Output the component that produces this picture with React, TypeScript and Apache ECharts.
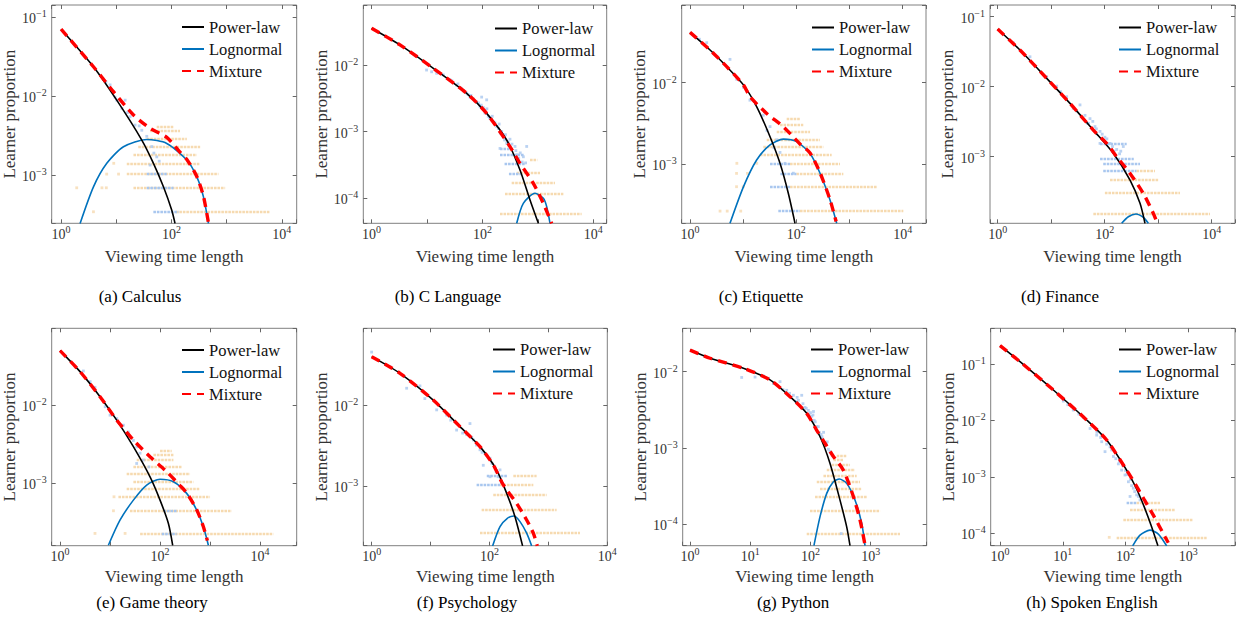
import React, { useEffect, useRef } from 'react';
import * as echarts from 'echarts';

const FONT = "'Liberation Serif', 'Times New Roman', serif";
const X_NAME = 'Viewing time length';
const Y_NAME = 'Learner proportion';
const LEGEND_NAMES = ['Power-law', 'Lognormal', 'Mixture'];
const CAPTIONS = ['(a) Calculus', '(b) C Language', '(c) Etiquette', '(d) Finance', '(e) Game theory', '(f) Psychology', '(g) Python', '(h) Spoken English'];

// axis ranges [min, max]
const X_RANGES = [[0.676, 18600], [0.708, 17400], [0.697, 27500], [0.719, 27300], [0.681, 54100], [0.722, 10000], [0.755, 8500], [0.71, 5550]];
const Y_RANGES = [[0.000245, 0.143], [0.0000422, 0.0794], [0.00019, 0.0893], [0.000112, 0.147], [0.000155, 0.097], [0.000183, 0.0885], [0.000052, 0.0371], [0.0000604, 0.429]];
// label every decade (1) or every other decade (2) on x axis
const X_LABEL_STEP = [2, 2, 2, 2, 2, 2, 1, 1];

// ---------- (a) Calculus ----------
const aPower = [[1, 0.0705], [3.86, 0.0236], [10.2, 0.0089], [29, 0.00278], [47.2, 0.00141], [71.6, 0.00071], [101, 0.00036], [116, 0.000244]];
const aLogn = [[2.21, 0.000244], [3.86, 0.00071], [6.73, 0.00141], [13.5, 0.00229], [35.7, 0.00283], [82.3, 0.00252], [190, 0.00155], [288, 0.00095], [380, 0.00053], [468, 0.000244]];
const aMix = [[1, 0.0705], [3.86, 0.0236], [8.89, 0.0114], [20.5, 0.00577], [41, 0.00391], [82.3, 0.003], [140, 0.00198], [190, 0.00158], [288, 0.00096], [380, 0.00054], [468, 0.000248]];
const aBlue = [[5.85, 0.0164], [7.73, 0.0139], [10.2, 0.0089], [12.6, 0.007], [14.5, 0.0089], [17.8, 0.0055], [21.9, 0.0043], [29, 0.0037], [35.7, 0.0031], [44, 0.0023], [54.2, 0.0017], [41, 0.00134], [6.5, 0.0152], [9.5, 0.0097], [16, 0.0062], [26, 0.0042], [48, 0.0019], [60, 0.0015]];
const aBlueRows = [[0.000343, 47, 134], [0.00069, 35.7, 109], [0.00103, 35.7, 82]];
const aOrangeRows = [[0.000343, 120, 6150], [0.00069, 20.5, 940], [0.00103, 15.5, 711], [0.00141, 15.5, 331], [0.0018, 20.5, 288], [0.00229, 25, 331], [0.0029, 35.7, 190], [0.0036, 41, 143], [0.0041, 54, 109]];
const aOrangeDots = [[3.86, 0.000343], [1.92, 0.00069], [5.5, 0.00069], [6.6, 0.00069], [6.7, 0.00103], [11, 0.00103], [9, 0.00141]];

// ---------- (b) C Language ----------
const bPower = [[1, 0.0355], [3.25, 0.02], [13, 0.0089], [51.8, 0.00376], [119, 0.00188], [273, 0.00075], [475, 0.000266], [720, 0.0000944], [1018, 0.0000422]];
const bLogn = [[414, 0.0000422], [545, 0.000084], [886, 0.000119], [1253, 0.0001], [1439, 0.000075], [1652, 0.0000422]];
const bMix = [[1, 0.0355], [3.25, 0.02], [13, 0.0089], [51.8, 0.00376], [119, 0.00188], [313, 0.000596], [475, 0.000335], [826, 0.000168], [1253, 0.000084], [1770, 0.000042]];
const bBlue = [[9.8, 0.0084], [12.1, 0.0079], [14.9, 0.0075], [19.6, 0.0071], [25.9, 0.006], [34.2, 0.005], [39.3, 0.0046], [45.1, 0.0041], [51.8, 0.0038], [59.5, 0.0033], [68.4, 0.0031], [78.5, 0.0028], [90.2, 0.0024], [103.5, 0.0023], [111, 0.0019], [127, 0.0017], [146, 0.0015], [168, 0.00136], [193, 0.00112], [222, 0.001], [244, 0.00084], [273, 0.00067], [313, 0.00077], [386, 0.0006], [546, 0.00042], [627, 0.0006], [207, 0.00056], [119, 0.003], [96.6, 0.0033], [28, 0.0058], [36, 0.0052], [42, 0.0044], [55, 0.0036], [62, 0.0035], [72, 0.0029], [85, 0.0027], [95, 0.0025], [110, 0.0021], [120, 0.0022], [135, 0.0016], [150, 0.0017], [160, 0.0014], [180, 0.0012], [200, 0.0013], [210, 0.00095], [230, 0.0009], [250, 0.00075], [260, 0.0009], [290, 0.0007], [300, 0.00062], [340, 0.00065], [400, 0.00052], [420, 0.00045], [480, 0.00048], [450, 0.0004], [520, 0.00035], [600, 0.00034]];
const bBlueRows = [[0.00056, 207, 330], [0.000447, 207, 560], [0.000335, 250, 600], [0.000237, 300, 500]];
const bOrangeRows = [[0.0000596, 207, 6140], [0.000119, 255, 2875], [0.000172, 336, 2033], [0.000243, 414, 1090], [0.000385, 720, 976]];
const bOrangeDots: number[][] = [];

// ---------- (c) Etiquette ----------
const cPower = [[1, 0.0413], [2.38, 0.0251], [4.9, 0.0157], [10.1, 0.0094], [17.9, 0.0051], [32, 0.00218], [49.3, 0.00103], [70.8, 0.00044], [94.4, 0.00019]];
const cLogn = [[5.65, 0.00019], [10.1, 0.00053], [17.9, 0.00113], [32, 0.00173], [56.9, 0.00204], [101, 0.0019], [181, 0.00136], [279, 0.00078], [430, 0.000366], [574, 0.00019]];
const cMix = [[1, 0.0413], [2.38, 0.0251], [4.9, 0.0157], [10.1, 0.0094], [13.4, 0.00674], [27.7, 0.0042], [56.9, 0.00289], [117, 0.00178], [181, 0.00138], [279, 0.00079], [430, 0.00037], [560, 0.0002]];
const cBlue = [[2.06, 0.0309], [2.75, 0.0229], [5.65, 0.0193], [7.55, 0.011], [10.1, 0.0088], [13.4, 0.0061], [23.9, 0.004], [32, 0.0029], [42.7, 0.002], [49.3, 0.0014], [61.2, 0.00103], [87.9, 0.00078], [1.5, 0.034], [3.2, 0.021], [17, 0.0055], [28, 0.0026], [38, 0.0016]];
const cBlueRows = [[0.000268, 45.8, 117], [0.000533, 32, 76], [0.00103, 32, 76], [0.000776, 50, 100]];
const cOrangeRows = [[0.000268, 117, 10300], [0.000533, 76, 3240], [0.000776, 100, 766], [0.00103, 76, 663], [0.0013, 20.7, 462], [0.00164, 23.9, 322], [0.00199, 27.7, 279], [0.00251, 42.7, 181], [0.00303, 49.3, 135], [0.00366, 65.8, 117]];
const cOrangeDots = [[3.67, 0.000268], [5, 0.000268], [9, 0.000268], [7.5, 0.000533], [10, 0.000533], [7.5, 0.000776], [12, 0.000776], [7.6, 0.00103], [18, 0.00103]];

// ---------- (d) Finance ----------
const dPower = [[1, 0.0667], [2.61, 0.0334], [8.24, 0.0132], [22.5, 0.00578], [61.4, 0.0024], [145, 0.00112], [298, 0.000464], [458, 0.000216], [567, 0.000112]];
const dLogn = [[208, 0.000112], [277, 0.000139], [385, 0.000152], [528, 0.000136], [655, 0.000112]];
const dMix = [[1, 0.0667], [2.61, 0.0334], [8.24, 0.0132], [22.5, 0.00578], [61.4, 0.0024], [109, 0.00155], [168, 0.001], [298, 0.000578], [528, 0.000299], [813, 0.000155], [965, 0.000112]];
const dBlue = [[1.96, 0.0425], [4.02, 0.0268], [8.24, 0.0139], [12.7, 0.0102], [19.5, 0.0072], [25.9, 0.0049], [34.6, 0.0055], [42.9, 0.0039], [53.2, 0.0035], [65.9, 0.0027], [81.8, 0.0023], [101, 0.0019], [126, 0.00155], [168, 0.00127], [223, 0.0014], [81.8, 0.00155], [30, 0.0045], [15, 0.0085], [48, 0.003], [50, 0.003], [60, 0.0032], [70, 0.0025], [90, 0.0021], [110, 0.0018], [140, 0.0014], [150, 0.0012], [190, 0.0011], [200, 0.0012]];
const dBlueRows = [[0.00063, 94, 392], [0.000785, 94, 458], [0.00095, 82, 350], [0.00155, 82, 258]];
const dOrangeRows = [[0.000155, 61.4, 9310], [0.000306, 101, 2560], [0.000464, 126, 1007], [0.00063, 392, 873]];
const dOrangeDots: number[][] = [];

// ---------- (e) Game theory ----------
const ePower = [[1, 0.0501], [2.51, 0.0269], [6.31, 0.0128], [13.6, 0.0064], [29.3, 0.00291], [63.1, 0.00119], [100, 0.000598], [147, 0.000299], [179, 0.000157]];
const eLogn = [[9.26, 0.000157], [15.8, 0.00033], [29.3, 0.000598], [54.1, 0.000933], [100, 0.00111], [185, 0.00103], [341, 0.00073], [541, 0.000445], [736, 0.000271], [926, 0.000157]];
const eMix = [[1, 0.0501], [2.51, 0.0269], [6.31, 0.0128], [13.6, 0.0064], [29.3, 0.00355], [63.1, 0.00216], [136, 0.00139], [251, 0.00092], [341, 0.00074], [541, 0.00045], [736, 0.000272], [885, 0.00018]];
const eBlue = [[2.93, 0.0274], [5.0, 0.0169], [10, 0.0074], [13.6, 0.0067], [18.5, 0.0055], [23.3, 0.0045], [29.3, 0.0035], [34.1, 0.0029], [39.8, 0.0024], [46.4, 0.00196], [34.1, 0.00177], [8, 0.0095], [4, 0.02], [60, 0.0016]];
const eBlueRows = [[0.000223, 108, 215], [0.000436, 117, 215]];
const eOrangeRows = [[0.000223, 40, 18500], [0.000436, 25, 2710], [0.00066, 14.7, 1000], [0.000845, 21.5, 631], [0.00103, 29.3, 464], [0.00132, 21.5, 398], [0.00161, 29.3, 271], [0.00196, 34.1, 185], [0.00227, 73.6, 185], [0.00258, 100, 171]];
const eOrangeDots = [[5, 0.000223], [11.7, 0.000436], [20, 0.000223], [12, 0.00066]];

// ---------- (f) Psychology ----------
const fPower = [[1, 0.0395], [3.03, 0.0246], [11.1, 0.0115], [31.6, 0.0054], [69, 0.00306], [132, 0.00158], [196, 0.00081], [271, 0.000418], [365, 0.000182]];
const fLogn = [[113, 0.000182], [151, 0.000315], [201, 0.000399], [261, 0.000426], [330, 0.000363], [428, 0.000261], [520, 0.000182]];
const fMix = [[1, 0.0395], [3.03, 0.0246], [11.1, 0.0115], [31.6, 0.0054], [69, 0.00306], [116, 0.00182], [172, 0.00103], [289, 0.00061], [428, 0.00038], [555, 0.000261], [648, 0.000182]];
const fBlue = [[2.05, 0.0297], [3.93, 0.0161], [6.61, 0.0172], [12.7, 0.0087], [18.8, 0.0075], [27.7, 0.0049], [41, 0.0043], [46.7, 0.0059], [53.2, 0.0037], [69, 0.0028], [84, 0.0025], [102, 0.0022], [124, 0.0017], [78.5, 0.0018], [151, 0.00158], [102, 0.0013], [1, 0.045], [8, 0.012], [22, 0.0065], [35, 0.0045], [60, 0.0032], [50, 0.004], [75, 0.0026], [90, 0.0024], [110, 0.0019], [130, 0.0015], [140, 0.0013], [160, 0.0011]];
const fBlueRows = [[0.00105, 60.5, 151], [0.00134, 90, 200]];
const fOrangeRows = [[0.000261, 69, 3440], [0.000515, 73.6, 1380], [0.000788, 116, 933], [0.00105, 151, 555], [0.00134, 254, 631]];
const fOrangeDots: number[][] = [];

// ---------- (g) Python ----------
const gPower = [[1, 0.0192], [2.15, 0.015], [7.68, 0.0111], [21.3, 0.0078], [45.7, 0.0047], [86.5, 0.00284], [144, 0.0014], [211, 0.000625], [309, 0.000206], [399, 0.000092], [453, 0.000052]];
const gLogn = [[114, 0.000052], [144, 0.000125], [186, 0.000253], [240, 0.00036], [301, 0.00039], [399, 0.000342], [548, 0.000207], [708, 0.000102], [804, 0.000052]];
const gMix = [[1, 0.0192], [2.15, 0.015], [7.68, 0.0111], [21.3, 0.0078], [45.7, 0.0047], [86.5, 0.00284], [127, 0.0017], [174, 0.00115], [240, 0.00077], [352, 0.00051], [515, 0.00023], [665, 0.000113], [804, 0.000053]];
const gBlue = [[7.2, 0.0084], [11.3, 0.01], [16.5, 0.0088], [24.2, 0.007], [31.2, 0.0074], [40.3, 0.0057], [52, 0.0049], [63, 0.0042], [71.5, 0.0049], [81, 0.0034], [92, 0.0031], [105, 0.0026], [115, 0.0023], [127, 0.0019], [140, 0.0016], [155, 0.0014], [174, 0.00115], [198, 0.00096], [112, 0.003], [12, 0.0085], [20, 0.0082], [35, 0.0058], [56, 0.0041], [95, 0.0027], [324, 0.000075], [45, 0.0052], [60, 0.0046], [75, 0.0038], [85, 0.0033], [100, 0.0029], [110, 0.0027], [120, 0.0022], [135, 0.0019], [150, 0.0015], [160, 0.0013], [165, 0.0016], [185, 0.0011], [190, 0.0012], [210, 0.0009], [220, 0.00085], [230, 0.0008]];
const gBlueRows: number[][] = [];
const gOrangeRows = [[0.000075, 86.5, 3060], [0.00015, 98, 1430], [0.000229, 119, 857], [0.000288, 144, 708], [0.00036, 127, 664], [0.000427, 164, 585], [0.000512, 186, 548], [0.000596, 225, 453], [0.000692, 240, 352], [0.00078, 272, 399]];
const gOrangeDots: number[][] = [];

// ---------- (h) Spoken English ----------
const hPower = [[1, 0.211], [2.08, 0.11], [7.08, 0.0346], [24, 0.0102], [50, 0.0045], [104, 0.00132], [150, 0.00061], [200, 0.000288], [260, 0.000131], [328, 0.00006]];
const hLogn = [[130, 0.00006], [170, 0.000093], [245, 0.000114], [333, 0.000097], [452, 0.00006]];
const hMix = [[1, 0.211], [2.08, 0.11], [7.08, 0.0346], [24, 0.0102], [50, 0.0045], [104, 0.00132], [150, 0.00068], [200, 0.00039], [277, 0.00021], [425, 0.000087], [480, 0.000068]];
const hBlue = [[10.2, 0.022], [14.7, 0.0153], [21.3, 0.0114], [27.2, 0.0072], [34.7, 0.0055], [41.7, 0.0042], [47.1, 0.0028], [56.6, 0.0034], [64, 0.0023], [76.8, 0.0017], [86.7, 0.00132], [98, 0.00108], [111, 0.00082], [133, 0.00063], [150, 0.00048], [118, 0.00045], [170, 0.00039], [12, 0.019], [18, 0.013], [35, 0.0062], [70, 0.0021], [40, 0.005], [50, 0.0038], [60, 0.003], [80, 0.0019], [90, 0.0016], [100, 0.0013], [105, 0.0011], [120, 0.0009], [125, 0.0007], [140, 0.00055], [160, 0.00045]];
const hBlueRows = [[0.000354, 104, 150]];
const hOrangeRows = [[0.000085, 72.2, 1960], [0.000172, 92.2, 1200], [0.000259, 118, 614], [0.000354, 150, 354]];
const hOrangeDots = [[55, 0.000085]];

const PANELS = [
  { power: aPower, logn: aLogn, mix: aMix, blue: aBlue, blueRows: aBlueRows, orangeRows: aOrangeRows, orangeDots: aOrangeDots },
  { power: bPower, logn: bLogn, mix: bMix, blue: bBlue, blueRows: bBlueRows, orangeRows: bOrangeRows, orangeDots: bOrangeDots },
  { power: cPower, logn: cLogn, mix: cMix, blue: cBlue, blueRows: cBlueRows, orangeRows: cOrangeRows, orangeDots: cOrangeDots },
  { power: dPower, logn: dLogn, mix: dMix, blue: dBlue, blueRows: dBlueRows, orangeRows: dOrangeRows, orangeDots: dOrangeDots },
  { power: ePower, logn: eLogn, mix: eMix, blue: eBlue, blueRows: eBlueRows, orangeRows: eOrangeRows, orangeDots: eOrangeDots },
  { power: fPower, logn: fLogn, mix: fMix, blue: fBlue, blueRows: fBlueRows, orangeRows: fOrangeRows, orangeDots: fOrangeDots },
  { power: gPower, logn: gLogn, mix: gMix, blue: gBlue, blueRows: gBlueRows, orangeRows: gOrangeRows, orangeDots: gOrangeDots },
  { power: hPower, logn: hLogn, mix: hMix, blue: hBlue, blueRows: hBlueRows, orangeRows: hOrangeRows, orangeDots: hOrangeDots },
];

// ---------- layout (pixels) ----------
const GRID_BOXES = [
  [51.7, 5, 245, 218.3], [363.3, 5, 243.4, 218.3], [681.7, 5, 244.3, 218.3], [990, 5, 245, 218.3],
  [51.7, 328.3, 245, 217.4], [363.3, 328.3, 244, 217.4], [682.7, 328.3, 244, 217.4], [990.7, 328.3, 244.3, 217.4],
];
const LEGEND_POS = [[181, 18.5], [494, 20], [811, 19], [1118, 19], [181, 341.5], [492, 341], [810, 341], [1118, 341]];
const Y_NAME_GAP = [30, 29.5, 31.5, 33.5, 26.5, 28, 34, 30.5];
const X_NAME_GAP = [25, 25, 25, 25, 22.5, 22.5, 22.5, 22.5];
const CAPTION_POS = [[140, 296], [448, 296], [761, 296], [1060, 296], [152, 602], [467, 602], [793, 602], [1092, 602]];

const TEXT_COLOR = '#333';
const FRAME = '#808080';
const BLUE_DOT = '#a9c7ef';
const ORANGE_DOT = '#f6dab0';

const rich = {
  b: { fontSize: 14, lineHeight: 17, verticalAlign: 'bottom', color: TEXT_COLOR, fontFamily: FONT },
  s: { fontSize: 10, lineHeight: 10, verticalAlign: 'top', color: TEXT_COLOR, fontFamily: FONT },
};

function powLabel(v: number, step: number) {
  const l = Math.log10(v);
  const e = Math.round(l);
  if (Math.abs(l - e) > 1e-6) return '';
  if (step === 2 && e % 2 !== 0) return '';
  const s = e < 0 ? '\u2212' + -e : String(e);
  return `{b|10}{s|${s}}`;
}

function buildOption() {
  const grid: any[] = [];
  const xAxis: any[] = [];
  const yAxis: any[] = [];
  const series: any[] = [];
  const legend: any[] = [];
  const tick = { show: true, inside: true, length: 4, lineStyle: { color: '#666', width: 1 } };
  PANELS.forEach((p, i) => {
    const [l, t, w, h] = GRID_BOXES[i];
    grid.push({ left: l, top: t, width: w, height: h, show: true, borderColor: FRAME, borderWidth: 1, backgroundColor: 'transparent', containLabel: false, outerBoundsMode: 'none' });
    const [x0, x1] = X_RANGES[i];
    const [y0, y1] = Y_RANGES[i];
    const step = X_LABEL_STEP[i];
    xAxis.push({
      type: 'log', logBase: 10, gridIndex: i, min: x0, max: x1, position: 'bottom',
      axisLine: { show: false }, axisTick: tick, splitLine: { show: false }, minorTick: { show: false },
      axisLabel: { margin: 1, formatter: (v: number) => powLabel(v, step), rich },
      name: X_NAME, nameLocation: 'middle', nameGap: X_NAME_GAP[i],
      nameTextStyle: { fontSize: 17, color: TEXT_COLOR, fontFamily: FONT },
    });
    xAxis.push({
      type: 'log', logBase: 10, gridIndex: i, min: x0, max: x1, position: 'top',
      axisLine: { show: false }, axisTick: tick, splitLine: { show: false }, axisLabel: { show: false },
    });
    yAxis.push({
      type: 'log', logBase: 10, gridIndex: i, min: y0, max: y1, position: 'left',
      axisLine: { show: false }, axisTick: tick, splitLine: { show: false },
      axisLabel: { margin: 5, formatter: (v: number) => powLabel(v, 1), rich },
      name: Y_NAME, nameLocation: 'middle', nameGap: Y_NAME_GAP[i],
      nameTextStyle: { fontSize: 17, color: TEXT_COLOR, fontFamily: FONT },
    });
    yAxis.push({
      type: 'log', logBase: 10, gridIndex: i, min: y0, max: y1, position: 'right',
      axisLine: { show: false }, axisTick: tick, splitLine: { show: false }, axisLabel: { show: false },
    });
    const ax = { xAxisIndex: 2 * i, yAxisIndex: 2 * i };
    const rows = (arr: number[][]) => arr.map((r) => ({ coords: [[r[1], r[0]], [r[2], r[0]]] }));
    series.push({
      type: 'lines', coordinateSystem: 'cartesian2d', ...ax, silent: true, z: 1,
      data: rows(p.orangeRows), lineStyle: { color: ORANGE_DOT, width: 2.4, type: [2.6, 0.9], opacity: 1, curveness: 0 },
    });
    series.push({
      type: 'scatter', ...ax, silent: true, z: 1, symbol: 'rect', symbolSize: 2.8,
      data: p.orangeDots, itemStyle: { color: ORANGE_DOT },
    });
    series.push({
      type: 'lines', coordinateSystem: 'cartesian2d', ...ax, silent: true, z: 2,
      data: rows(p.blueRows), lineStyle: { color: BLUE_DOT, width: 2.4, type: [2.6, 0.9], opacity: 1, curveness: 0 },
    });
    series.push({
      type: 'scatter', ...ax, silent: true, z: 2, symbol: 'rect', symbolSize: 2.8,
      data: p.blue, itemStyle: { color: BLUE_DOT },
    });
    series.push({
      type: 'line', name: 'Lognormal', ...ax, z: 3, data: p.logn, symbol: 'none', showSymbol: false,
      smooth: 0.25, lineStyle: { color: '#0072BD', width: 1.6 }, itemStyle: { color: '#0072BD' },
    });
    series.push({
      type: 'line', name: 'Power-law', ...ax, z: 4, data: p.power, symbol: 'none', showSymbol: false,
      smooth: 0.25, lineStyle: { color: '#000000', width: 1.6 }, itemStyle: { color: '#000000' },
    });
    series.push({
      type: 'line', name: 'Mixture', ...ax, z: 5, data: p.mix, symbol: 'none', showSymbol: false,
      smooth: 0.25, lineStyle: { color: '#ff0000', width: 3.4, type: [9, 6] }, itemStyle: { color: '#ff0000' },
    });
    const [lx, ly] = LEGEND_POS[i];
    legend.push({
      left: lx, top: ly, orient: 'vertical', itemWidth: 22, itemHeight: 14, itemGap: 5,
      data: LEGEND_NAMES, selectedMode: false, padding: 0,
      itemStyle: { opacity: 0, color: 'transparent', borderColor: 'transparent', borderWidth: 0 },
      textStyle: { fontSize: 16.5, color: '#111', fontFamily: FONT },
    });
  });
  const graphic = CAPTIONS.map((c, i) => ({
    type: 'text', x: CAPTION_POS[i][0], y: CAPTION_POS[i][1],
    style: { text: c, fontSize: 17, fontFamily: FONT, fill: '#000', textAlign: 'center', textVerticalAlign: 'middle' },
  }));
  return {
    animation: false,
    backgroundColor: '#ffffff',
    textStyle: { fontFamily: FONT },
    grid, xAxis, yAxis, series, legend, graphic,
  };
}

export default function App() {
  const ref = useRef<HTMLDivElement>(null);
  useEffect(() => {
    const chart = echarts.init(ref.current as HTMLDivElement, null, { renderer: 'svg', width: 1239, height: 623 });
    chart.setOption(buildOption() as any);
    return () => chart.dispose();
  }, []);
  return <div ref={ref} style={{ position: 'absolute', left: 0, top: 0, width: 1239, height: 623, background: '#fff' }} />;
}
